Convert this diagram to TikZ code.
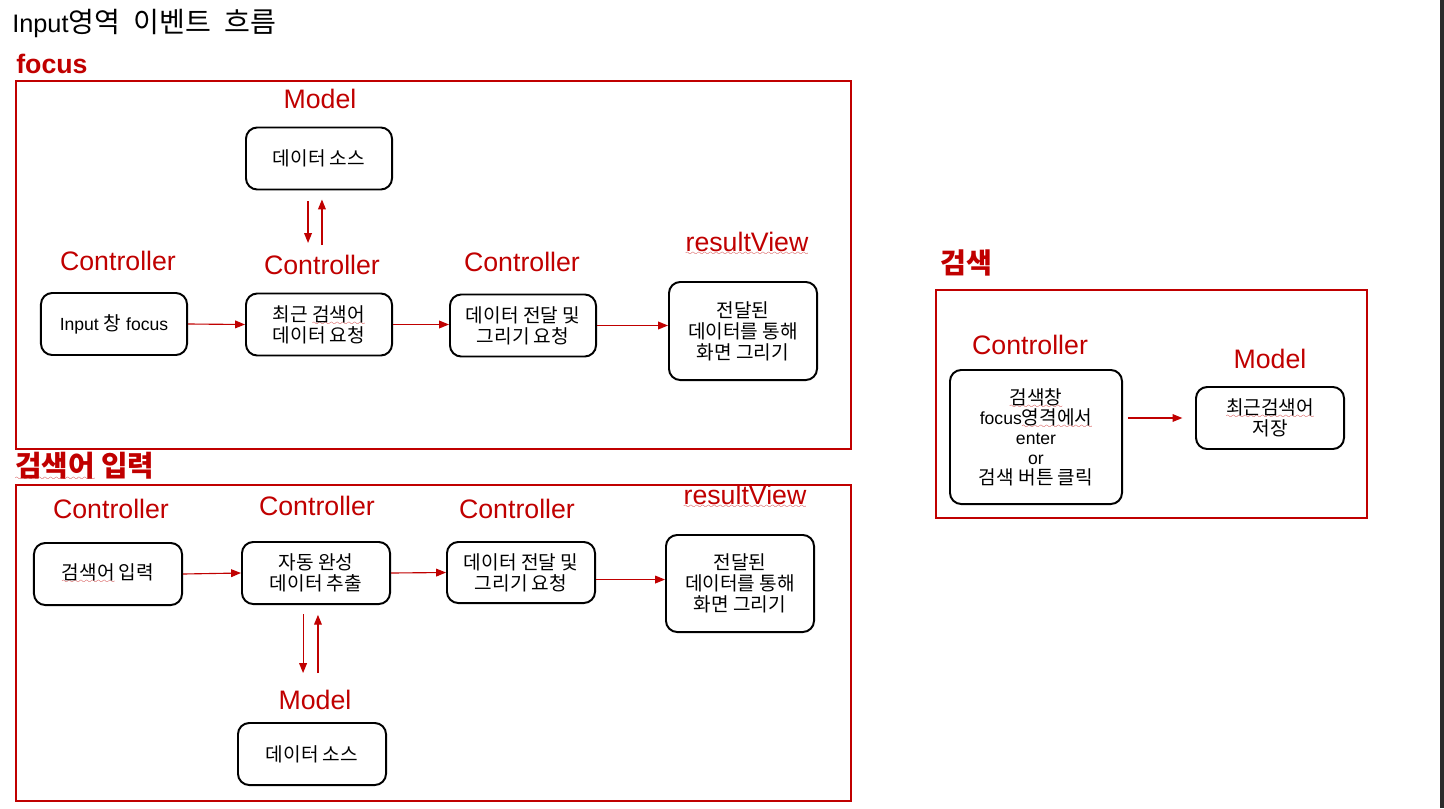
\documentclass[tikz,border=0pt]{standalone}
\usepackage{fontspec}
\setmainfont{Liberation Sans}
\newfontfamily\kr{Noto Sans CJK KR}
\usetikzlibrary{arrows.meta}
\definecolor{pptred}{RGB}{192,0,0}
\font\wavefont=lasy10 at 6pt
\newcommand\spell[1]{\setbox0\hbox{#1}\rlap{\textcolor{pptred}{\lower2.8pt\hbox to\wd0{\xleaders\hbox{\wavefont\char58}\hfil}}}\box0{}}
\newcommand\labfont{\fontsize{19}{22}\selectfont}
\newcommand\boxfont{\fontsize{12.5}{15}\selectfont}
\newcommand\krfont{\kr\fontsize{13.6}{15}\selectfont}
\tikzstyle{lab} = [text=pptred, inner sep=0, font=\labfont]
\tikzstyle{head} = [text=pptred, inner sep=0, font=\labfont\bfseries]
\tikzstyle{box} = [rectangle, rounded corners=8pt, draw=black, line width=1.4pt, align=center, minimum width=3.65cm, minimum height=1.55cm, inner sep=2pt, font=\boxfont]
\tikzstyle{krbox} = [box, font=\krfont]
\tikzstyle{frame} = [draw=pptred, line width=1.5pt]
\tikzstyle{arrow} = [pptred, line width=0.8pt, -{Triangle[length=7pt,width=5.5pt]}]

\begin{document}
\begin{tikzpicture}[x=0.025cm,y=-0.025cm]
\useasboundingbox (0,0) rectangle (1444,808);
\fill[black!83] (1440,0) rectangle (1444,808);

% headings
\node[anchor=base west,inner sep=0,font=\fontsize{18}{20}\selectfont] (title) at (12,33) {Input{\kr\fontsize{20}{22}\selectfont 영역\hspace{.25em} 이벤트\hspace{.25em} 흐름}};
\node[head,anchor=base west] (hfocus) at (16,73) {focus};
\node[head,anchor=west,font=\kr\fontsize{20.5}{22}\selectfont\bfseries] (hinput) at (15,466) {\spell{검색어} 입력};
\node[head,anchor=west,font=\kr\fontsize{20}{22}\selectfont\bfseries] (hsearch) at (940,263) {검색};

% frames
\draw[frame] (16,81) rectangle (851,449);
\draw[frame] (16,485) rectangle (851,801);
\draw[frame] (936,290) rectangle (1367,518);

% focus
\node[lab] (m1) at (320,99) {Model};
\node[krbox] (src1) at (319,158.5) {데이터 소스};
\node[lab] (c1) at (118,261) {Controller};
\node[box] (inp) at (114,324) {Input {\krfont 창} focus};
\node[lab] (c2) at (322,265) {Controller};
\node[krbox] (rec) at (319,324.5) {최근 \spell{검색어}\\데이터 요청};
\node[lab] (c3) at (522,262) {Controller};
\node[krbox] (req1) at (523,325.5) {데이터 전달 및\\그리기 요청};
\node[lab] (rv1) at (747,244) {\spell{resultView}};
\node[krbox,minimum width=3.7cm,minimum height=2.45cm] (draw1) at (743,331) {전달된\\데이터를 통해\\화면 그리기};

\draw[arrow] (inp.east) -- (rec.west);
\draw[arrow] (rec.east) -- (rec.east -| req1.west);
\draw[arrow] (req1.east) -- (req1.east -| draw1.west);
\draw[arrow,shorten <=7.8pt,shorten >=8.5pt] ([xshift=-7.8pt]src1.south) -- ([xshift=-7.8pt]src1.south |- c2.north);
\draw[arrow,shorten <=7pt,shorten >=6.4pt] ([xshift=2.1pt]src1.south |- c2.north) -- ([xshift=2.1pt]src1.south);

% search word input
\node[lab] (c4) at (111,509) {Controller};
\node[krbox,minimum width=3.7cm] (word) at (108,574) {\spell{검색어} 입력};
\node[lab] (c5) at (317,506) {Controller};
\node[krbox,minimum width=3.7cm] (auto) at (316,573) {자동 완성\\데이터 추출};
\node[lab] (c6) at (517,509) {Controller};
\node[krbox,minimum width=3.7cm,minimum height=1.525cm] (req2) at (521,572.5) {데이터 전달 및\\그리기 요청};
\node[lab] (rv2) at (745,497) {\spell{resultView}};
\node[krbox,minimum width=3.7cm,minimum height=2.425cm] (draw2) at (740,583.5) {전달된\\데이터를 통해\\화면 그리기};
\node[lab] (m2) at (315,700) {Model};
\node[krbox,minimum width=3.7cm] (src2) at (312,754) {데이터 소스};

\draw[arrow] (word.east) -- (auto.west);
\draw[arrow] (auto.east) -- (req2.west);
\draw[arrow] ([yshift=-5pt]req2.east) -- ([yshift=-5pt]req2.east -| draw2.west);
\draw[arrow,shorten <=6.4pt,shorten >=12pt] ([xshift=-9.2pt]auto.south) -- ([xshift=-9.2pt]auto.south |- m2.north);
\draw[arrow,shorten <=12pt,shorten >=7pt] ([xshift=1.4pt]auto.south |- m2.north) -- ([xshift=1.4pt]auto.south);

% search
\node[lab] (c7) at (1030,345) {Controller};
\node[box,minimum width=4.3cm,minimum height=3.35cm,font=\fontsize{12.5}{14.2}\selectfont] (enter) at (1036,437) {{\krfont\spell{검색창}}\\focus{\krfont\spell{영격에서}}\\enter\\or\\{\krfont 검색 버튼 클릭}};
\node[lab] (m3) at (1270,359) {Model};
\node[krbox,minimum width=3.7cm] (save) at (1270,418) {\spell{최근검색어}\\저장};

\draw[arrow,shorten <=3.5pt,shorten >=9pt] (enter.east |- save.west) -- (save.west);
\end{tikzpicture}
\end{document}
